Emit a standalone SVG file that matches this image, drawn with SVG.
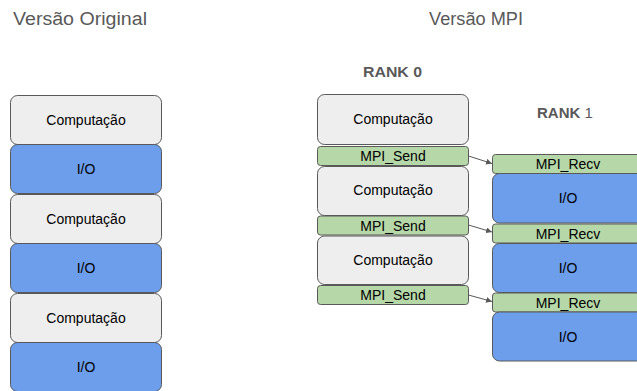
<svg xmlns="http://www.w3.org/2000/svg" width="637" height="391" viewBox="0 0 637 391">
  <style>
    .title { font-family: "Liberation Sans", Arial, sans-serif; font-size: 18px; fill: #595959; }
    .rank { font-family: "Liberation Sans", Arial, sans-serif; font-size: 15px; fill: #595959; font-weight: bold; }
    .lbl { font-family: "Liberation Sans", Arial, sans-serif; font-size: 14px; fill: #000; text-anchor: middle; }
    .comp { fill: #eeeeee; stroke: #595959; stroke-width: 1; }
    .io { fill: #6d9eeb; stroke: #595959; stroke-width: 1; }
    .msg { fill: #b6d7a8; stroke: #595959; stroke-width: 1; }
    .edge { stroke: #595959; stroke-width: 1; fill: none; }
  </style>
  <defs>
    <marker id="arrow" viewBox="0 0 10 10" refX="10" refY="5" markerWidth="6" markerHeight="6" orient="auto" markerUnits="userSpaceOnUse">
      <path d="M0,0 L10,5 L0,10 z" fill="#595959"/>
    </marker>
  </defs>
  <rect width="637" height="391" fill="#ffffff"/>

  <!-- headings -->
  <text class="title" x="13" y="25" textLength="134" lengthAdjust="spacingAndGlyphs">Versão Original</text>
  <text class="title" x="429" y="25" textLength="94" lengthAdjust="spacingAndGlyphs">Versão MPI</text>
  <text class="rank" x="363" y="77" textLength="59" lengthAdjust="spacingAndGlyphs">RANK 0</text>
  <text class="rank" x="537" y="118">RANK <tspan font-weight="normal">1</tspan></text>

  <!-- sequential version -->
  <g id="seq-comp-1"><rect class="comp" x="10.5" y="95.5" width="151" height="49" rx="7"/><text class="lbl" x="86" y="125">Computação</text></g>
  <g id="seq-io-1"><rect class="io" x="10.5" y="144.5" width="151" height="49" rx="7"/><text class="lbl" x="86" y="174">I/O</text></g>
  <g id="seq-comp-2"><rect class="comp" x="10.5" y="194.5" width="151" height="49" rx="7"/><text class="lbl" x="86" y="224">Computação</text></g>
  <g id="seq-io-2"><rect class="io" x="10.5" y="243.5" width="151" height="49" rx="7"/><text class="lbl" x="86" y="273">I/O</text></g>
  <g id="seq-comp-3"><rect class="comp" x="10.5" y="293.5" width="151" height="49" rx="7"/><text class="lbl" x="86" y="323">Computação</text></g>
  <g id="seq-io-3"><rect class="io" x="10.5" y="342.5" width="151" height="49" rx="7"/><text class="lbl" x="86" y="372">I/O</text></g>

  <!-- rank 0 -->
  <g id="r0-comp-1"><rect class="comp" x="317.5" y="94.5" width="151" height="50" rx="7"/><text class="lbl" x="393" y="124">Computação</text></g>
  <g id="r0-send-1"><rect class="msg" x="317.5" y="146.5" width="151" height="19" rx="3"/><text class="lbl" x="393" y="161">MPI_Send</text></g>
  <g id="r0-comp-2"><rect class="comp" x="317.5" y="166.5" width="151" height="49" rx="7"/><text class="lbl" x="393" y="195">Computação</text></g>
  <g id="r0-send-2"><rect class="msg" x="317.5" y="216" width="151" height="19" rx="3"/><text class="lbl" x="393" y="230.5">MPI_Send</text></g>
  <g id="r0-comp-3"><rect class="comp" x="317.5" y="236" width="151" height="48.5" rx="7"/><text class="lbl" x="393" y="265">Computação</text></g>
  <g id="r0-send-3"><rect class="msg" x="317.5" y="285.5" width="151" height="19" rx="3"/><text class="lbl" x="393" y="300">MPI_Send</text></g>

  <!-- rank 1 -->
  <g id="r1-recv-1"><rect class="msg" x="492.5" y="154.5" width="151" height="19" rx="3"/><text class="lbl" x="568" y="169">MPI_Recv</text></g>
  <g id="r1-io-1"><rect class="io" x="492.5" y="173.5" width="151" height="49.5" rx="7"/><text class="lbl" x="568" y="203">I/O</text></g>
  <g id="r1-recv-2"><rect class="msg" x="492.5" y="224" width="151" height="19" rx="3"/><text class="lbl" x="568" y="238.5">MPI_Recv</text></g>
  <g id="r1-io-2"><rect class="io" x="492.5" y="243.5" width="151" height="49" rx="7"/><text class="lbl" x="568" y="273">I/O</text></g>
  <g id="r1-recv-3"><rect class="msg" x="492.5" y="293" width="151" height="19" rx="3"/><text class="lbl" x="568" y="307.5">MPI_Recv</text></g>
  <g id="r1-io-3"><rect class="io" x="492.5" y="312" width="151" height="49" rx="7"/><text class="lbl" x="568" y="341.5">I/O</text></g>

  <!-- messages -->
  <g id="connectors">
    <line class="edge" x1="468.5" y1="156" x2="492" y2="163.5" marker-end="url(#arrow)"/>
    <line class="edge" x1="468.5" y1="225" x2="492" y2="232" marker-end="url(#arrow)"/>
    <line class="edge" x1="468.5" y1="295" x2="492" y2="301.5" marker-end="url(#arrow)"/>
  </g>
</svg>
